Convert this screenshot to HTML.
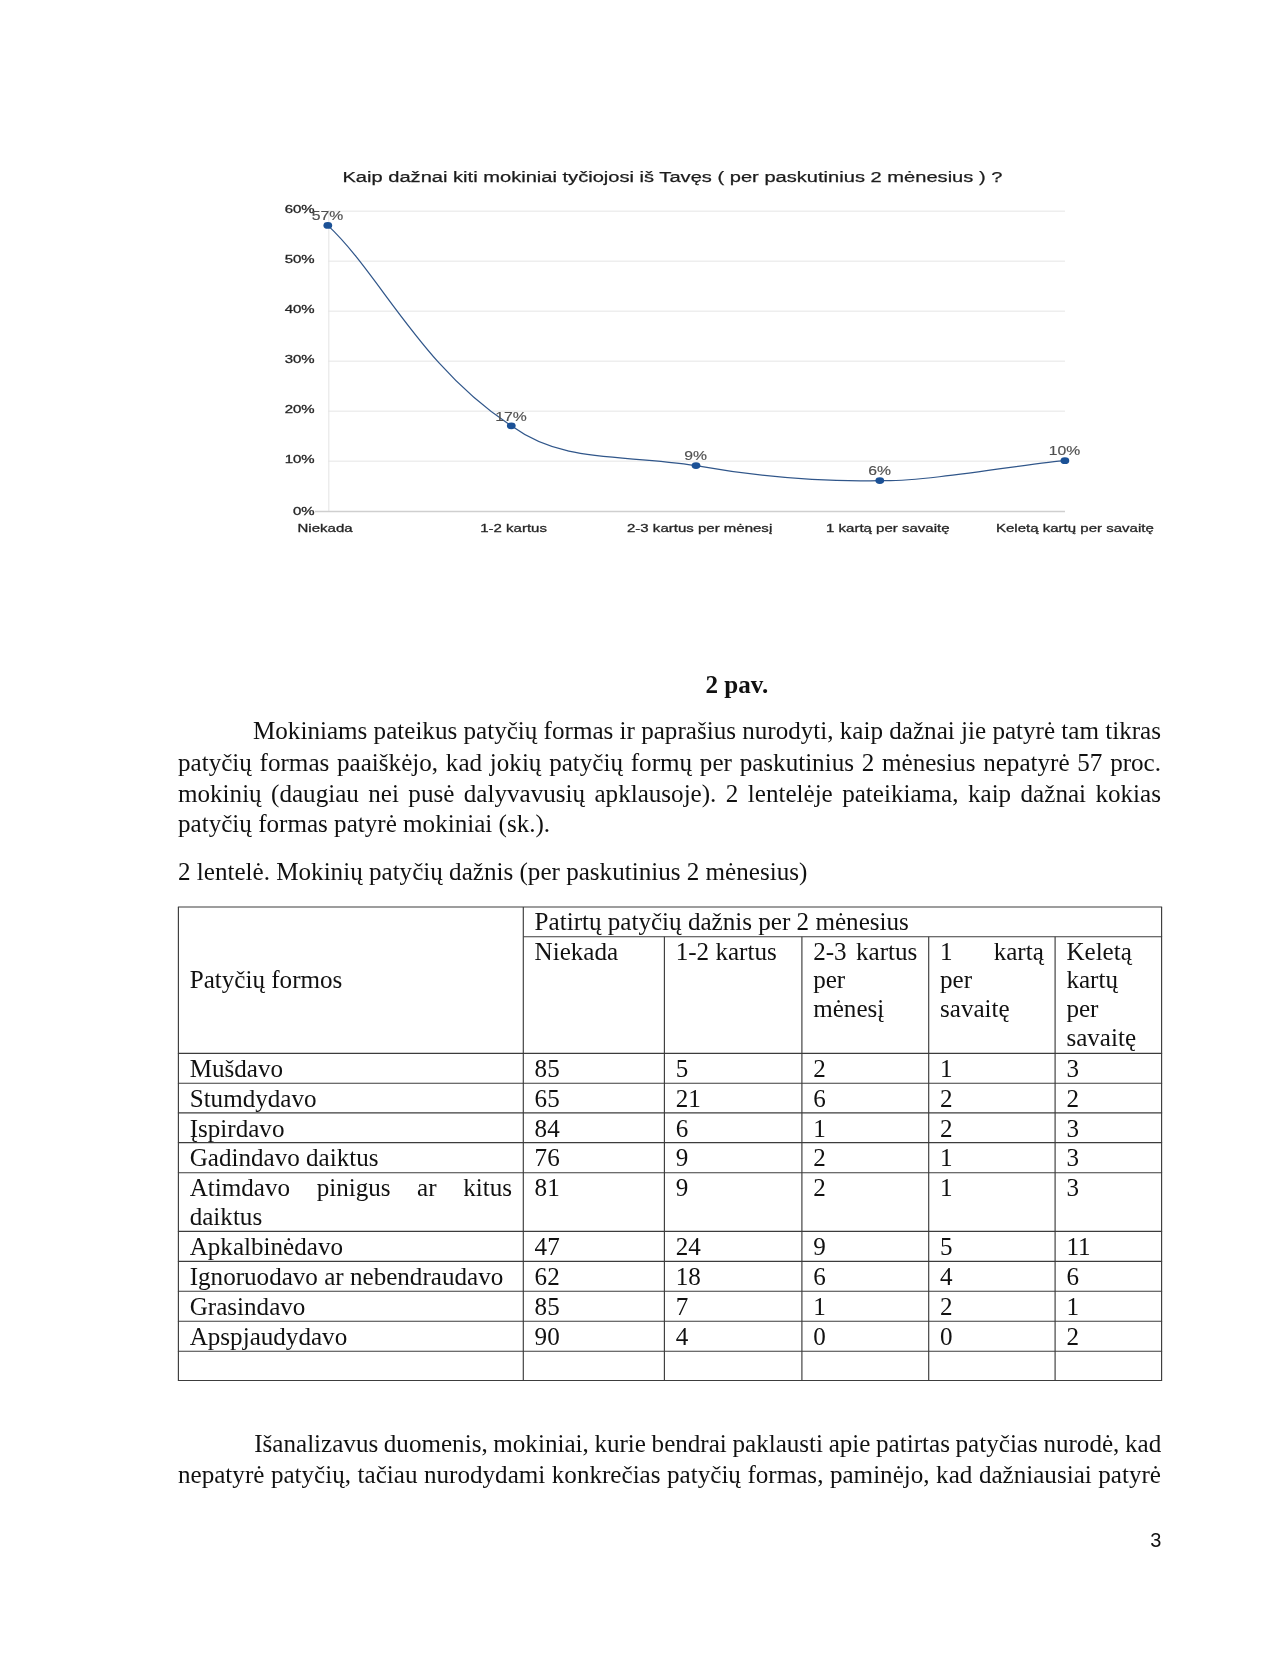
<!DOCTYPE html>
<html><head><meta charset="utf-8">
<style>
html,body{margin:0;padding:0;background:#fff;}
body{will-change:transform;width:1280px;height:1656px;position:relative;overflow:hidden;font-family:"Liberation Serif",serif;color:#111;}
.t{position:absolute;font-size:25.1px;line-height:30.0px;height:30.0px;white-space:nowrap;}
.j{text-align:justify;text-align-last:justify;}
svg{position:absolute;left:0;top:0;}
svg text{font-family:"Liberation Sans",sans-serif;}
</style></head><body>

<svg width="1280" height="620" viewBox="0 0 1280 620">
<g stroke="#eeeeee" stroke-width="1.5">
<line x1="328" y1="211.20" x2="1065" y2="211.20"/>
<line x1="328" y1="261.20" x2="1065" y2="261.20"/>
<line x1="328" y1="311.20" x2="1065" y2="311.20"/>
<line x1="328" y1="361.20" x2="1065" y2="361.20"/>
<line x1="328" y1="411.20" x2="1065" y2="411.20"/>
<line x1="328" y1="461.20" x2="1065" y2="461.20"/>
<line x1="328.8" y1="210.20" x2="328.8" y2="511.20" stroke="#e6e6e6" stroke-width="1.1"/>
</g>
<line x1="315" y1="511.60" x2="1065" y2="511.60" stroke="#cfcfcf" stroke-width="1.5"/>
<path d="M327.8,225.4 C380.4,274.5 420.2,366.3 511.3,425.8 C564.0,464.2 621.0,453.7 696.0,465.6 C760.1,477.0 817.1,482.1 879.8,480.6 C925.1,482.3 1039.7,461.7 1064.9,460.7" fill="none" stroke="#30568a" stroke-width="1.25"/>
<g fill="#1b5196">
<ellipse cx="327.80" cy="225.40" rx="4.4" ry="3.4"/>
<ellipse cx="511.30" cy="425.80" rx="4.4" ry="3.4"/>
<ellipse cx="696.00" cy="465.60" rx="4.4" ry="3.4"/>
<ellipse cx="879.80" cy="480.60" rx="4.4" ry="3.4"/>
<ellipse cx="1064.90" cy="460.70" rx="4.4" ry="3.4"/>
</g>
<text textLength="660" lengthAdjust="spacingAndGlyphs" transform="translate(342.40,181.80) scale(1.000,1)" font-size="14.9" text-anchor="start" fill="#1c1c1c" stroke="#1c1c1c" stroke-width="0.25">Kaip dažnai kiti mokiniai tyčiojosi iš Tavęs ( per paskutinius 2 mėnesius ) ?</text>
<text transform="translate(314.60,213.20) scale(1.315,1)" font-size="11.4" text-anchor="end" fill="#262626" stroke="#262626" stroke-width="0.3">60%</text>
<text transform="translate(314.60,263.20) scale(1.315,1)" font-size="11.4" text-anchor="end" fill="#262626" stroke="#262626" stroke-width="0.3">50%</text>
<text transform="translate(314.60,313.20) scale(1.315,1)" font-size="11.4" text-anchor="end" fill="#262626" stroke="#262626" stroke-width="0.3">40%</text>
<text transform="translate(314.60,363.20) scale(1.315,1)" font-size="11.4" text-anchor="end" fill="#262626" stroke="#262626" stroke-width="0.3">30%</text>
<text transform="translate(314.60,413.20) scale(1.315,1)" font-size="11.4" text-anchor="end" fill="#262626" stroke="#262626" stroke-width="0.3">20%</text>
<text transform="translate(314.60,463.20) scale(1.315,1)" font-size="11.4" text-anchor="end" fill="#262626" stroke="#262626" stroke-width="0.3">10%</text>
<text transform="translate(314.60,514.60) scale(1.315,1)" font-size="11.4" text-anchor="end" fill="#262626" stroke="#262626" stroke-width="0.3">0%</text>
<text transform="translate(327.50,220.10) scale(1.270,1)" font-size="12.4" text-anchor="middle" fill="#505050" stroke="#505050" stroke-width="0.15">57%</text>
<text transform="translate(511.00,420.50) scale(1.270,1)" font-size="12.4" text-anchor="middle" fill="#505050" stroke="#505050" stroke-width="0.15">17%</text>
<text transform="translate(695.70,460.30) scale(1.270,1)" font-size="12.4" text-anchor="middle" fill="#505050" stroke="#505050" stroke-width="0.15">9%</text>
<text transform="translate(879.50,475.30) scale(1.270,1)" font-size="12.4" text-anchor="middle" fill="#505050" stroke="#505050" stroke-width="0.15">6%</text>
<text transform="translate(1064.60,455.40) scale(1.270,1)" font-size="12.4" text-anchor="middle" fill="#505050" stroke="#505050" stroke-width="0.15">10%</text>
<text transform="translate(297.50,532.00) scale(1.318,1)" font-size="11.4" text-anchor="start" fill="#262626" stroke="#262626" stroke-width="0.3">Niekada</text>
<text transform="translate(480.20,532.00) scale(1.318,1)" font-size="11.4" text-anchor="start" fill="#262626" stroke="#262626" stroke-width="0.3">1-2 kartus</text>
<text transform="translate(627.00,532.00) scale(1.318,1)" font-size="11.4" text-anchor="start" fill="#262626" stroke="#262626" stroke-width="0.3">2-3 kartus per mėnesį</text>
<text transform="translate(826.00,532.00) scale(1.318,1)" font-size="11.4" text-anchor="start" fill="#262626" stroke="#262626" stroke-width="0.3">1 kartą per savaitę</text>
<text transform="translate(996.00,532.00) scale(1.318,1)" font-size="11.4" text-anchor="start" fill="#262626" stroke="#262626" stroke-width="0.3">Keletą kartų per savaitę</text>
</svg>
<div class="t" style="left:705.40px;top:669.53px;font-weight:bold;">2 pav.</div>
<div class="t j" style="left:253.00px;top:716.03px;width:908.00px;">Mokiniams pateikus patyčių formas ir paprašius nurodyti, kaip dažnai jie patyrė tam tikras</div>
<div class="t j" style="left:178.00px;top:747.73px;width:983.00px;">patyčių formas paaiškėjo, kad jokių patyčių formų per paskutinius 2 mėnesius nepatyrė 57 proc.</div>
<div class="t j" style="left:178.00px;top:778.83px;width:983.00px;">mokinių (daugiau nei pusė dalyvavusių apklausoje). 2 lentelėje pateikiama, kaip dažnai kokias</div>
<div class="t" style="left:178.00px;top:809.13px;">patyčių formas patyrė mokiniai (sk.).</div>
<div class="t" style="left:178.00px;top:857.13px;">2 lentelė. Mokinių patyčių dažnis (per paskutinius 2 mėnesius)</div>
<svg width="1280" height="1656" viewBox="0 0 1280 1656" style="pointer-events:none">
<g stroke="#3c3c3c" stroke-width="1.15" fill="none">
<line x1="177.90" y1="907.00" x2="1162.10" y2="907.00"/>
<line x1="523.30" y1="936.70" x2="1162.10" y2="936.70"/>
<line x1="177.90" y1="1053.40" x2="1162.10" y2="1053.40"/>
<line x1="177.90" y1="1083.20" x2="1162.10" y2="1083.20"/>
<line x1="177.90" y1="1112.90" x2="1162.10" y2="1112.90"/>
<line x1="177.90" y1="1142.60" x2="1162.10" y2="1142.60"/>
<line x1="177.90" y1="1172.70" x2="1162.10" y2="1172.70"/>
<line x1="177.90" y1="1231.30" x2="1162.10" y2="1231.30"/>
<line x1="177.90" y1="1261.30" x2="1162.10" y2="1261.30"/>
<line x1="177.90" y1="1291.20" x2="1162.10" y2="1291.20"/>
<line x1="177.90" y1="1321.20" x2="1162.10" y2="1321.20"/>
<line x1="177.90" y1="1351.20" x2="1162.10" y2="1351.20"/>
<line x1="177.90" y1="1380.50" x2="1162.10" y2="1380.50"/>
<line x1="178.40" y1="907.00" x2="178.40" y2="1380.50"/>
<line x1="523.30" y1="907.00" x2="523.30" y2="1380.50"/>
<line x1="664.40" y1="936.70" x2="664.40" y2="1380.50"/>
<line x1="801.90" y1="936.70" x2="801.90" y2="1380.50"/>
<line x1="928.70" y1="936.70" x2="928.70" y2="1380.50"/>
<line x1="1055.10" y1="936.70" x2="1055.10" y2="1380.50"/>
<line x1="1161.60" y1="907.00" x2="1161.60" y2="1380.50"/>
</g></svg>
<div class="t" style="left:189.70px;top:964.83px;">Patyčių formos</div>
<div class="t" style="left:534.60px;top:906.93px;">Patirtų patyčių dažnis per 2 mėnesius</div>
<div class="t" style="left:534.60px;top:936.63px;">Niekada</div>
<div class="t" style="left:675.70px;top:936.63px;">1-2 kartus</div>
<div class="t j" style="left:813.20px;top:936.63px;width:104.20px;">2-3 kartus</div>
<div class="t" style="left:813.20px;top:965.49px;">per</div>
<div class="t" style="left:813.20px;top:994.35px;">mėnesį</div>
<div class="t j" style="left:940.00px;top:936.63px;width:103.80px;">1 kartą</div>
<div class="t" style="left:940.00px;top:965.49px;">per</div>
<div class="t" style="left:940.00px;top:994.35px;">savaitę</div>
<div class="t" style="left:1066.40px;top:936.63px;">Keletą</div>
<div class="t" style="left:1066.40px;top:965.49px;">kartų</div>
<div class="t" style="left:1066.40px;top:994.35px;">per</div>
<div class="t" style="left:1066.40px;top:1023.21px;">savaitę</div>
<div class="t" style="left:189.70px;top:1054.03px;">Mušdavo</div>
<div class="t" style="left:534.60px;top:1054.03px;">85</div>
<div class="t" style="left:675.70px;top:1054.03px;">5</div>
<div class="t" style="left:813.20px;top:1054.03px;">2</div>
<div class="t" style="left:940.00px;top:1054.03px;">1</div>
<div class="t" style="left:1066.40px;top:1054.03px;">3</div>
<div class="t" style="left:189.70px;top:1083.83px;">Stumdydavo</div>
<div class="t" style="left:534.60px;top:1083.83px;">65</div>
<div class="t" style="left:675.70px;top:1083.83px;">21</div>
<div class="t" style="left:813.20px;top:1083.83px;">6</div>
<div class="t" style="left:940.00px;top:1083.83px;">2</div>
<div class="t" style="left:1066.40px;top:1083.83px;">2</div>
<div class="t" style="left:189.70px;top:1113.53px;">Įspirdavo</div>
<div class="t" style="left:534.60px;top:1113.53px;">84</div>
<div class="t" style="left:675.70px;top:1113.53px;">6</div>
<div class="t" style="left:813.20px;top:1113.53px;">1</div>
<div class="t" style="left:940.00px;top:1113.53px;">2</div>
<div class="t" style="left:1066.40px;top:1113.53px;">3</div>
<div class="t" style="left:189.70px;top:1143.23px;">Gadindavo daiktus</div>
<div class="t" style="left:534.60px;top:1143.23px;">76</div>
<div class="t" style="left:675.70px;top:1143.23px;">9</div>
<div class="t" style="left:813.20px;top:1143.23px;">2</div>
<div class="t" style="left:940.00px;top:1143.23px;">1</div>
<div class="t" style="left:1066.40px;top:1143.23px;">3</div>
<div class="t j" style="left:189.70px;top:1173.33px;width:322.30px;">Atimdavo pinigus ar kitus</div>
<div class="t" style="left:189.70px;top:1202.19px;">daiktus</div>
<div class="t" style="left:534.60px;top:1173.33px;">81</div>
<div class="t" style="left:675.70px;top:1173.33px;">9</div>
<div class="t" style="left:813.20px;top:1173.33px;">2</div>
<div class="t" style="left:940.00px;top:1173.33px;">1</div>
<div class="t" style="left:1066.40px;top:1173.33px;">3</div>
<div class="t" style="left:189.70px;top:1231.93px;">Apkalbinėdavo</div>
<div class="t" style="left:534.60px;top:1231.93px;">47</div>
<div class="t" style="left:675.70px;top:1231.93px;">24</div>
<div class="t" style="left:813.20px;top:1231.93px;">9</div>
<div class="t" style="left:940.00px;top:1231.93px;">5</div>
<div class="t" style="left:1066.40px;top:1231.93px;">11</div>
<div class="t" style="left:189.70px;top:1261.93px;">Ignoruodavo ar nebendraudavo</div>
<div class="t" style="left:534.60px;top:1261.93px;">62</div>
<div class="t" style="left:675.70px;top:1261.93px;">18</div>
<div class="t" style="left:813.20px;top:1261.93px;">6</div>
<div class="t" style="left:940.00px;top:1261.93px;">4</div>
<div class="t" style="left:1066.40px;top:1261.93px;">6</div>
<div class="t" style="left:189.70px;top:1291.83px;">Grasindavo</div>
<div class="t" style="left:534.60px;top:1291.83px;">85</div>
<div class="t" style="left:675.70px;top:1291.83px;">7</div>
<div class="t" style="left:813.20px;top:1291.83px;">1</div>
<div class="t" style="left:940.00px;top:1291.83px;">2</div>
<div class="t" style="left:1066.40px;top:1291.83px;">1</div>
<div class="t" style="left:189.70px;top:1321.83px;">Apspjaudydavo</div>
<div class="t" style="left:534.60px;top:1321.83px;">90</div>
<div class="t" style="left:675.70px;top:1321.83px;">4</div>
<div class="t" style="left:813.20px;top:1321.83px;">0</div>
<div class="t" style="left:940.00px;top:1321.83px;">0</div>
<div class="t" style="left:1066.40px;top:1321.83px;">2</div>
<div class="t j" style="left:254.20px;top:1429.13px;width:907.00px;word-spacing:-1.2px;">Išanalizavus duomenis, mokiniai, kurie bendrai paklausti apie patirtas patyčias nurodė, kad</div>
<div class="t j" style="left:178.00px;top:1459.83px;width:983.00px;">nepatyrė patyčių, tačiau nurodydami konkrečias patyčių formas, paminėjo, kad dažniausiai patyrė</div>
<div style="position:absolute;left:1150.3px;top:1529.3px;font-family:'Liberation Sans',sans-serif;font-size:20px;line-height:22px;">3</div>
</body></html>
